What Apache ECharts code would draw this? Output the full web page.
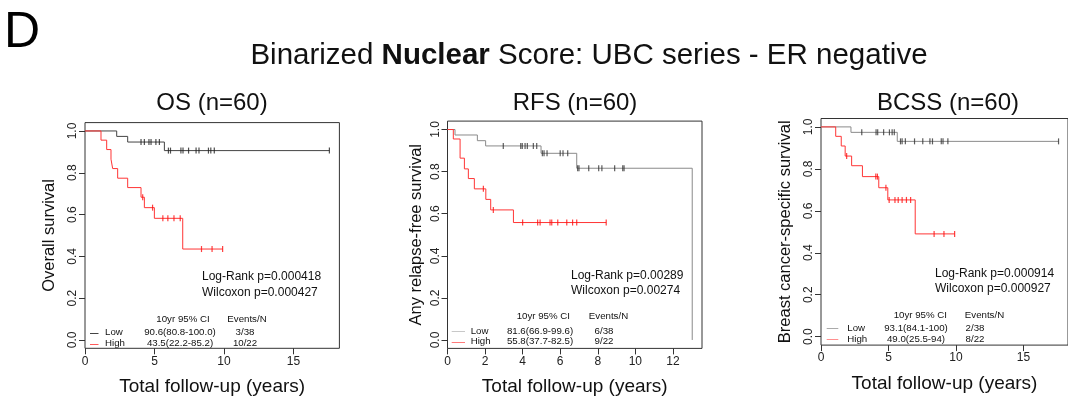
<!DOCTYPE html>
<html><head><meta charset="utf-8">
<script src="https://cdn.jsdelivr.net/npm/echarts@6/dist/echarts.min.js"></script>
<style>html,body{margin:0;padding:0;background:#fff}#c{width:1068px;height:403px}</style>
</head><body><div id="c"></div>
<script>
// ---------------- DATA ----------------
const panelTitles = ['OS (n=60)', 'RFS (n=60)', 'BCSS (n=60)'];
const yAxisNames = ['Overall survival', 'Any relapse-free survival', 'Breast cancer-specific survival'];
const xAxisName = 'Total follow-up (years)';
const yTicks = [0, 0.2, 0.4, 0.6, 0.8, 1.0];
const xTicksOS = [0, 5, 10, 15];
const xTicksRFS = [0, 2, 4, 6, 8, 10, 12];
const xTicksBCSS = [0, 5, 10, 15];
const xMaxOS = 18.3, xMaxRFS = 13.55, xMaxBCSS = 18.3;

// OS
const osLowEventT = [2.28, 3.07, 5.71];
const osLowSurv   = [0.974, 0.947, 0.906];
const osLowCens   = [4.03, 4.27, 4.6, 4.75, 5.1, 5.35, 6.0, 6.15, 6.9, 7.05, 7.45, 7.99, 8.2, 8.88, 9.05, 9.3, 17.58];
const osHighEventT = [1.15, 1.56, 1.87, 1.99, 2.35, 3.07, 4.03, 4.27, 4.99, 7.03];
const osHighSurv   = [0.956, 0.911, 0.865, 0.820, 0.774, 0.729, 0.683, 0.633, 0.582, 0.435];
const osHighCens   = [4.15, 4.86, 5.6, 5.96, 6.4, 6.85, 8.38, 9.14, 9.9];

// RFS
const rfsLowEventT = [0.40, 1.59, 2.03, 4.98, 6.88, 13.03];
const rfsLowSurv   = [0.974, 0.947, 0.922, 0.887, 0.816, 0.0];
const rfsLowCens   = [2.97, 3.9, 3.98, 4.13, 4.25, 4.57, 4.75, 5.05, 5.14, 5.3, 6.0, 6.15, 6.4, 6.93, 7.0, 7.52, 8.05, 8.22, 8.9, 9.33, 9.4];
const rfsHighEventT = [0.31, 0.67, 0.90, 1.11, 1.43, 2.04, 2.30, 3.51];
const rfsHighSurv   = [0.955, 0.864, 0.813, 0.767, 0.718, 0.668, 0.618, 0.558];
const rfsHighCens   = [1.91, 2.44, 4.0, 4.8, 4.93, 5.46, 5.55, 5.87, 6.35, 6.66, 6.88, 8.45];

// BCSS
const bcssLowEventT = [2.22, 5.65];
const bcssLowSurv   = [0.974, 0.931];
const bcssLowCens   = [3.02, 4.08, 4.2, 4.64, 5.07, 5.27, 5.43, 5.89, 6.01, 6.25, 6.93, 7.54, 8.07, 8.26, 8.91, 9.04, 9.4, 17.6];
const bcssHighEventT = [1.09, 1.5, 1.79, 2.27, 3.07, 4.28, 4.95, 6.98];
const bcssHighSurv   = [0.955, 0.909, 0.861, 0.815, 0.763, 0.710, 0.652, 0.490];
const bcssHighCens   = [1.9, 4.06, 4.18, 4.81, 5.05, 5.48, 5.72, 6.01, 6.33, 6.64, 8.38, 9.11, 9.9];

// annotation texts
const logRank  = ['Log-Rank p=0.000418', 'Log-Rank p=0.00289', 'Log-Rank p=0.000914'];
const wilcoxon = ['Wilcoxon p=0.000427', 'Wilcoxon p=0.00274', 'Wilcoxon p=0.000927'];
const tableHeader = ['10yr 95% CI', 'Events/N'];
const groupNames = ['Low', 'High'];
const ciLow  = ['90.6(80.8-100.0)', '81.6(66.9-99.6)', '93.1(84.1-100)'];
const ciHigh = ['43.5(22.2-85.2)', '55.8(37.7-82.5)', '49.0(25.5-94)'];
const evLow  = ['3/38', '6/38', '2/38'];
const evHigh = ['10/22', '9/22', '8/22'];

// ---------------- BUILD ----------------
const FONT = '"Liberation Sans", Arial, Helvetica, sans-serif';

function stepData(times, surv, cens) {
  const d = [[0, 1]];
  for (let i = 0; i < times.length; i++) d.push([times[i], surv[i]]);
  const lastT = times[times.length - 1];
  const maxC = Math.max.apply(null, cens);
  if (maxC > lastT) d.push([maxC, surv[surv.length - 1]]);
  return d;
}
function survAt(times, surv, t) {
  let s = 1;
  for (let i = 0; i < times.length; i++) { if (times[i] <= t) s = surv[i]; }
  return s;
}
function censData(times, surv, cens) {
  return cens.map(t => [t, survAt(times, surv, t)]);
}

const panels = [
  {grid: {left: 85, top: 122.6, width: 254.4, height: 225.7}, xMax: xMaxOS, xTicks: xTicksOS, yGap: 27,
   low: [osLowEventT, osLowSurv, osLowCens], high: [osHighEventT, osHighSurv, osHighCens],
   lowColor: '#444', lowCens: '#222', highColor: '#ff3535', highCens: '#ff1010',
   legLow: '#444', legHigh: '#ff5a5a'},
  {grid: {left: 447.5, top: 121.1, width: 254.5, height: 227.3}, xMax: xMaxRFS, xTicks: xTicksRFS, yGap: 23,
   low: [rfsLowEventT, rfsLowSurv, rfsLowCens], high: [rfsHighEventT, rfsHighSurv, rfsHighCens],
   lowColor: '#8a8a8a', lowCens: '#333', highColor: '#ff3535', highCens: '#ff1010',
   legLow: '#c8c8c8', legHigh: '#ff7a7a'},
  {grid: {left: 821, top: 118.5, width: 252.5, height: 226.6}, xMax: xMaxBCSS, xTicks: xTicksBCSS, yGap: 27,
   low: [bcssLowEventT, bcssLowSurv, bcssLowCens], high: [bcssHighEventT, bcssHighSurv, bcssHighCens],
   lowColor: '#8a8a8a', lowCens: '#333', highColor: '#ff3535', highCens: '#ff1010',
   legLow: '#aaa', legHigh: '#ff8f8f'}
];

const grids = [], xAxes = [], yAxes = [], series = [];
panels.forEach((p, i) => {
  grids.push(Object.assign({show: true, borderColor: '#333', borderWidth: 1, backgroundColor: 'transparent'}, p.grid));
  xAxes.push({
    type: 'value', gridIndex: i, min: 0, max: p.xMax,
    axisLine: {show: false, onZero: false},
    axisTick: {show: true, length: 6, customValues: p.xTicks, lineStyle: {color: '#333'}},
    axisLabel: {customValues: p.xTicks, fontSize: 12, color: '#222', margin: 7, fontFamily: FONT},
    splitLine: {show: false},
    name: xAxisName, nameLocation: 'middle', nameGap: 29,
    nameTextStyle: {fontSize: 19, color: '#111', fontFamily: FONT}
  });
  yAxes.push({
    type: 'value', gridIndex: i, min: -0.04, max: 1.04,
    axisLine: {show: false, onZero: false},
    axisTick: {show: true, length: 6, customValues: yTicks, lineStyle: {color: '#333'}},
    axisLabel: {customValues: yTicks, fontSize: 12, color: '#222', margin: 6, rotate: 90, fontFamily: FONT,
      formatter: v => Number(v).toFixed(1)},
    splitLine: {show: false},
    name: yAxisNames[i], nameLocation: 'middle', nameGap: p.yGap,
    nameTextStyle: {fontSize: 16.5, color: '#111', fontFamily: FONT}
  });
  const groups = [['low', p.lowColor, p.lowCens], ['high', p.highColor, p.highCens]];
  groups.forEach(g => {
    const [t, s, c] = p[g[0]];
    series.push({type: 'line', xAxisIndex: i, yAxisIndex: i, step: 'end', symbol: 'none', silent: true,
      lineStyle: {color: g[1], width: 1}, data: stepData(t, s, c), z: 3});
    series.push({type: 'scatter', xAxisIndex: i, yAxisIndex: i, symbol: 'rect', symbolSize: [1.2, 6], silent: true,
      itemStyle: {color: g[2]}, data: censData(t, s, c), z: 4});
  });
});

// text graphics
const G = [];
function txt(x, y, text, size, opts) {
  G.push({type: 'text', x: x, y: y, silent: true, z: 10,
    style: Object.assign({text: text, fontSize: size, fontFamily: FONT, fill: '#111',
      align: 'left', verticalAlign: 'middle'}, opts || {})});
}
function seg(x1, x2, y, color) {
  G.push({type: 'line', silent: true, z: 10, shape: {x1: x1, y1: y, x2: x2, y2: y}, style: {stroke: color, lineWidth: 1}});
}
// big letter & title
txt(4, 33, 'D', 50, {fill: '#000'});
G.push({type: 'text', x: 589, y: 56, silent: true, z: 10,
  style: {text: '{a|Binarized }{b|Nuclear}{a| Score: UBC series - ER negative}', align: 'center', verticalAlign: 'middle',
    rich: {a: {fontSize: 29.5, fontFamily: FONT, fill: '#111'}, b: {fontSize: 29.5, fontFamily: FONT, fontWeight: 'bold', fill: '#111'}}}});
// panel titles
const titleX = [212, 575, 948];
panelTitles.forEach((t, i) => txt(titleX[i], 103, t, 24, {align: 'center'}));

// p-value annotations
const annX = [202, 571, 935], annY1 = [277, 275.7, 274], annY2 = [292.5, 290.7, 288.3];
for (let i = 0; i < 3; i++) {
  txt(annX[i], annY1[i], logRank[i], 12);
  txt(annX[i], annY2[i], wilcoxon[i], 12);
}
// legend tables
const hdrCI = [183, 543.3, 920.3], hdrEv = [247, 608.5, 984.5], hdrY = [319.3, 316.7, 315];
const rowY1 = [332.5, 331, 328.3], rowY2 = [343.5, 341.5, 339.3];
const segX = [[90, 98.5], [451.7, 465], [826.7, 838.3]], labX = [105, 470.7, 847.3];
const valX = [180, 540, 916], evX = [245, 604, 975];
for (let i = 0; i < 3; i++) {
  const f = 9.7;
  txt(hdrCI[i], hdrY[i], tableHeader[0], f, {align: 'center'});
  txt(hdrEv[i], hdrY[i], tableHeader[1], f, {align: 'center'});
  seg(segX[i][0], segX[i][1], Math.round(rowY1[i]) + 0.5, panels[i].legLow);
  seg(segX[i][0], segX[i][1], Math.round(rowY2[i]) + 0.5, panels[i].legHigh);
  txt(labX[i], rowY1[i], groupNames[0], f);
  txt(labX[i], rowY2[i], groupNames[1], f);
  txt(valX[i], rowY1[i], ciLow[i], f, {align: 'center'});
  txt(valX[i], rowY2[i], ciHigh[i], f, {align: 'center'});
  txt(evX[i], rowY1[i], evLow[i], f, {align: 'center'});
  txt(evX[i], rowY2[i], evHigh[i], f, {align: 'center'});
}

const chart = echarts.init(document.getElementById('c'), null, {renderer: 'canvas'});
chart.setOption({
  animation: false,
  backgroundColor: '#fff',
  textStyle: {fontFamily: FONT},
  grid: grids, xAxis: xAxes, yAxis: yAxes, series: series,
  graphic: G
});
</script>
</body></html>
